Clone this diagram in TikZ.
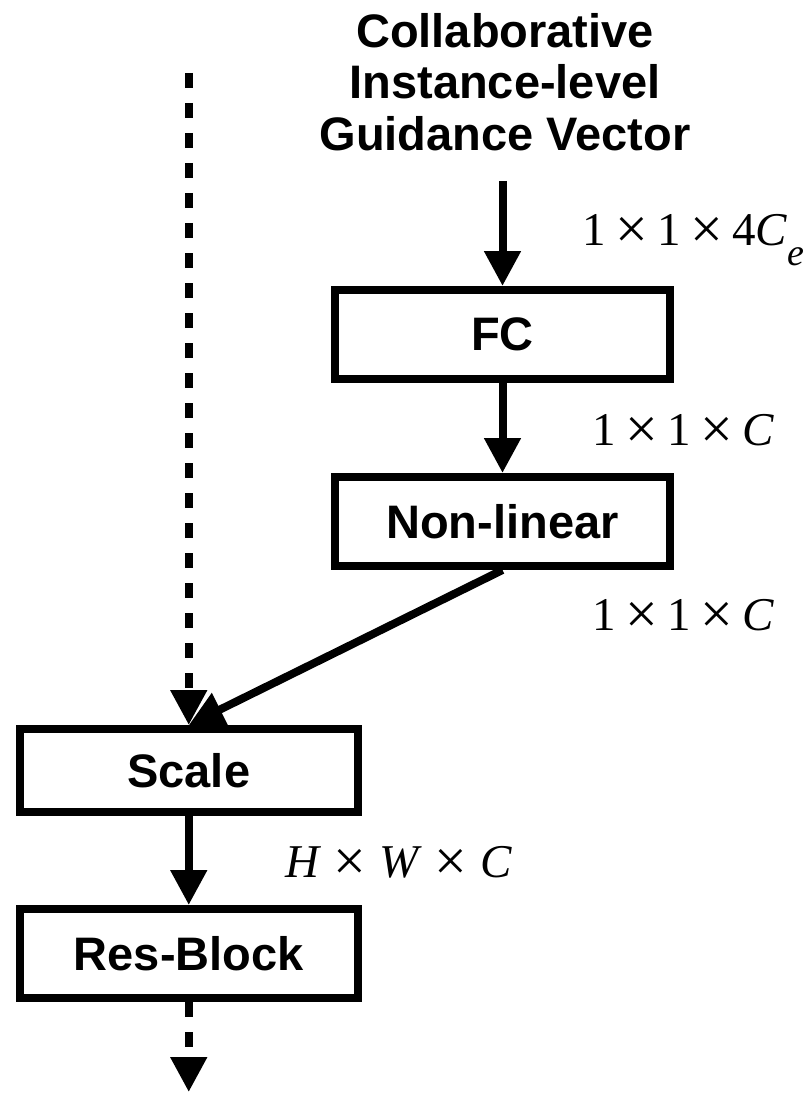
\documentclass[tikz,border=0pt]{standalone}
\usepackage{fontspec}
\setmainfont{Liberation Serif}
\setsansfont{Liberation Sans}
\usetikzlibrary{arrows.meta}
\newcommand\tms[1][0.2em]{\hspace{#1}\raisebox{-3pt}{\fontsize{58}{58}\selectfont ×}\hspace{#1}}
\begin{document}
\begin{tikzpicture}[x=1pt,y=-1pt,
  box/.style={draw,line width=8pt,inner sep=0pt,font=\sffamily\bfseries\fontsize{47}{47}\selectfont},
  arr/.style={line width=8pt,-{Triangle[length=35pt,width=35pt]}},
  dsh/.style={arr,dash pattern=on 15pt off 15pt},
  lbl/.style={anchor=base west,inner sep=0pt,font=\fontsize{47}{47}\selectfont}]
\useasboundingbox (0,0) rectangle (811,1099);
\node[anchor=north,inner sep=0pt,align=center,font=\sffamily\bfseries\fontsize{47}{51.7}\selectfont] (title) at (505,13) {Collaborative\\Instance-level\\Guidance Vector};
\node[box,minimum width=335pt,minimum height=89pt] (fc) at (502.5,334.5) {FC};
\node[box,minimum width=335pt,minimum height=89pt] (nl) at (502.5,521.5) {Non-linear};
\node[box,minimum width=337.5pt,minimum height=82.5pt] (scale) at (188.75,770.25) {Scale};
\node[box,minimum width=337.5pt,minimum height=89pt] (rb) at (188.75,953.5) {Res-Block};
\coordinate (in) at (502.5,181);
\coordinate (top) at (188.75,73);
\coordinate (out) at (188.75,1092);
\draw[arr] (in) -- (fc.north);
\draw[arr] (fc) -- (nl);
\draw[dsh] (top) -- (scale.north);
\draw[arr] (nl.south) -- (scale.north);
\draw[arr] (scale) -- (rb);
\draw[dsh] (rb.south) -- (out);
\node[lbl] (l1) at (582,245) {1\tms1\tms4\textit{C}\raisebox{-20pt}{\fontsize{38}{38}\selectfont\textit{e}}};
\node[lbl] (l2) at (592,445) {1\tms1\tms\textit{C}};
\node[lbl] (l3) at (592,630) {1\tms1\tms\textit{C}};
\node[lbl] (l4) at (285,877) {\textit{H}\tms[0.27em]\textit{W}\tms[0.27em]\textit{C}};
\end{tikzpicture}
\end{document}
